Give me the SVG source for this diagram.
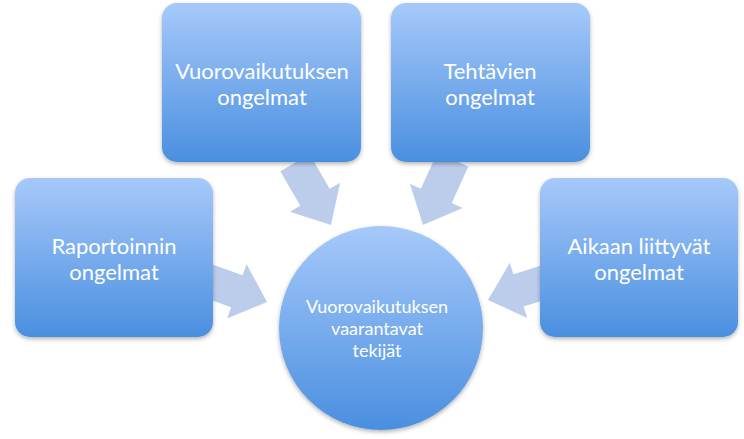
<svg xmlns="http://www.w3.org/2000/svg" width="744" height="439" viewBox="0 0 744 439">
<defs>
<linearGradient id="gBox" x1="0" y1="0" x2="0" y2="1">
<stop offset="0" stop-color="#a6c9fa"/>
<stop offset="1" stop-color="#4a8fe0"/>
</linearGradient>
<linearGradient id="gCircle" x1="0" y1="0" x2="0" y2="1">
<stop offset="0" stop-color="#a6c9fa"/>
<stop offset="1" stop-color="#4a8fe0"/>
</linearGradient>
<filter id="sh" x="-10%" y="-10%" width="120%" height="125%">
<feDropShadow dx="0" dy="2" stdDeviation="2" flood-color="#000" flood-opacity="0.3"/>
</filter>
<polygon id="arrow" points="-72,-17 -32,-17 -32,-29 0,0 -32,29 -32,17 -72,17"/>
</defs>
<style>
.box{fill:url(#gBox);filter:url(#sh)}
.arr{fill:#b6c9ea;fill-opacity:0.92}
.t{font-family:Lato,"Liberation Sans",sans-serif;fill:#ffffff;text-anchor:middle}
.tb{font-size:22px}
.tc{font-size:18px}
</style>
<rect width="744" height="439" fill="#ffffff"/>
<g id="connectors">
<use href="#arrow" class="arr" transform="translate(267,302) rotate(19.6)"/>
<use href="#arrow" class="arr" transform="translate(331,225) rotate(60)"/>
<use href="#arrow" class="arr" transform="translate(423,225) rotate(114.5)"/>
<use href="#arrow" class="arr" transform="translate(488,300) rotate(162.5)"/>
</g>
<g id="node-vuorovaikutuksen">
<rect class="box" x="162" y="3" width="199" height="159" rx="15"/>
<text class="t tb" x="262" y="79">Vuorovaikutuksen</text>
<text class="t tb" x="262" y="105">ongelmat</text>
</g>
<g id="node-tehtavien">
<rect class="box" x="391" y="3" width="199" height="159" rx="15"/>
<text class="t tb" x="490" y="79">Tehtävien</text>
<text class="t tb" x="490" y="105">ongelmat</text>
</g>
<g id="node-raportoinnin">
<rect class="box" x="15" y="178" width="198" height="159" rx="15"/>
<text class="t tb" x="114" y="254">Raportoinnin</text>
<text class="t tb" x="114" y="280">ongelmat</text>
</g>
<g id="node-aikaan">
<rect class="box" x="540" y="178" width="198" height="159" rx="15"/>
<text class="t tb" x="639" y="254">Aikaan liittyvät</text>
<text class="t tb" x="639" y="280">ongelmat</text>
</g>
<g id="node-center">
<circle cx="381" cy="328" r="102" fill="url(#gCircle)" filter="url(#sh)"/>
<text class="t tc" x="377" y="313">Vuorovaikutuksen</text>
<text class="t tc" x="377" y="335">vaarantavat</text>
<text class="t tc" x="377" y="357">tekijät</text>
</g>
</svg>
